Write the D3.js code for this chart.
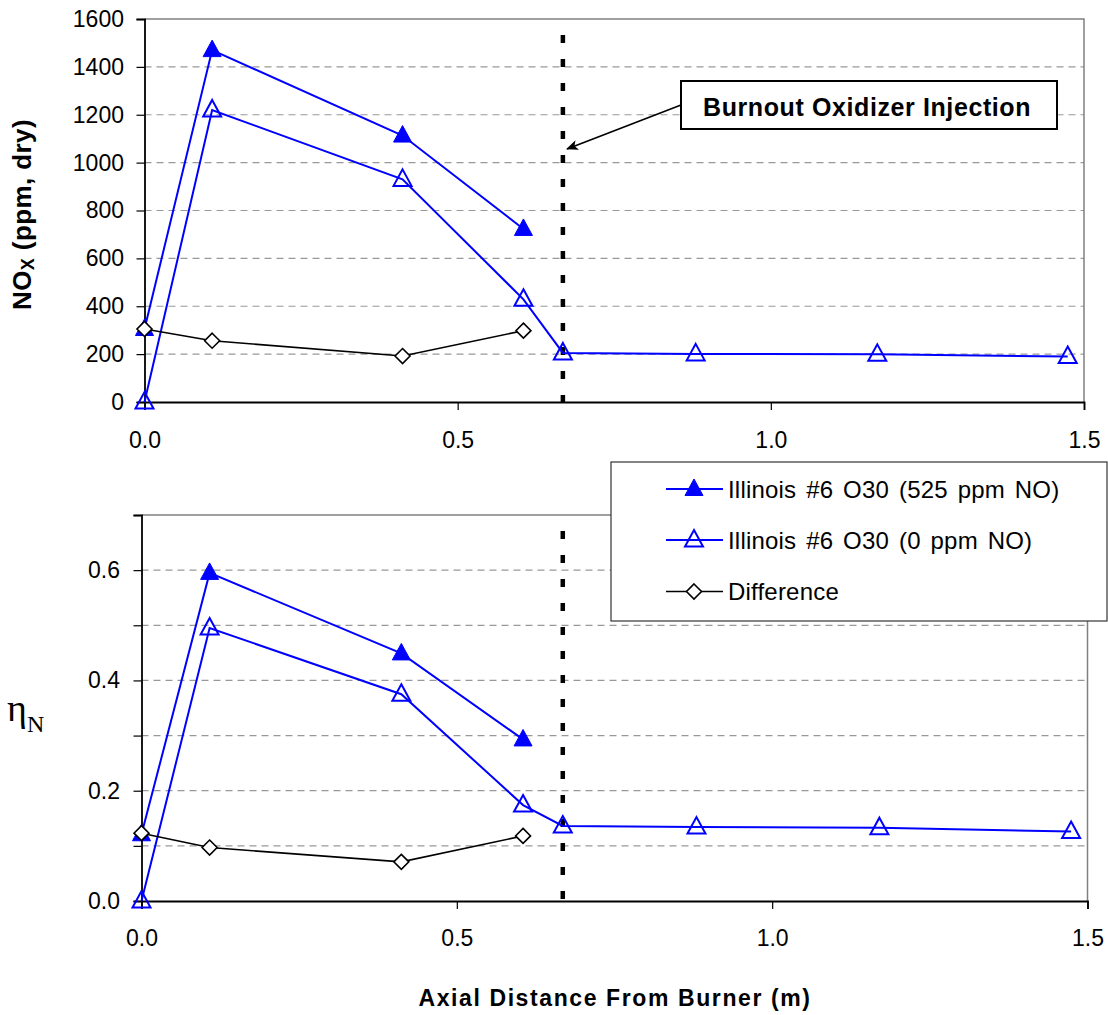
<!DOCTYPE html>
<html><head><meta charset="utf-8">
<script src="https://cdn.jsdelivr.net/npm/d3@7"></script>
<style>body{margin:0;background:#fff} svg{display:block}</style>
</head><body>
<svg id="c" width="1108" height="1015"></svg>
<script>
// ---- data ----
const xFilled = [0, 0.108, 0.412, 0.605];
const xOpen = [0, 0.108, 0.412, 0.605, 0.668, 0.880, 1.170, 1.474];
const noxFilled = [305, 1470, 1113, 723];
const noxOpen = [0, 1220, 930, 429, 205, 201, 199, 190];
const noxDiff = [305, 256, 192, 298];
const etaFilled = [0.121, 0.595, 0.449, 0.293];
const etaOpen = [0, 0.495, 0.375, 0.174, 0.136, 0.134, 0.133, 0.126];
const etaDiff = [0.123, 0.097, 0.071, 0.118];
const injectionX = 0.668;
const xTicks = [0, 0.5, 1.0, 1.5];
const noxTicks = [0, 200, 400, 600, 800, 1000, 1200, 1400, 1600];
const etaTicks = [0, 0.1, 0.2, 0.3, 0.4, 0.5, 0.6, 0.7];
const etaLabels = [0, 0.2, 0.4, 0.6];
const seriesNames = ["Illinois #6 O30 (525 ppm NO)", "Illinois #6 O30 (0 ppm NO)", "Difference"];
const annotationText = "Burnout Oxidizer Injection";

const svg = d3.select("#c");
const FONT = "'Liberation Sans', Arial, sans-serif";
const BLUE = "#0000ff";

const triPath = "M0,-10 L9,6.5 L-9,6.5 Z";
const diaPath = "M0,-7.5 L7.5,0 L0,7.5 L-7.5,0 Z";

function panel(opt) {
  const x = d3.scaleLinear().domain([0, 1.5]).range([opt.left, opt.right]);
  const y = d3.scaleLinear().domain(opt.domain).range([opt.bottom, opt.top]);
  const g = svg.append("g");

  g.selectAll("line.grid").data(opt.ticks.filter(t => t > opt.domain[0] && t < opt.domain[1]))
    .enter().append("line")
    .attr("x1", opt.left).attr("x2", opt.right)
    .attr("y1", d => y(d)).attr("y2", d => y(d))
    .attr("stroke", "#999").attr("stroke-width", 1.2).attr("stroke-dasharray", "7,5");

  g.append("path")
    .attr("d", `M${opt.left},${opt.top} H${opt.right} V${opt.bottom}`)
    .attr("fill", "none").attr("stroke", "#808080").attr("stroke-width", 1.5);

  const xAxis = d3.axisBottom(x).tickValues(xTicks).tickSize(8).tickPadding(0)
    .tickFormat(d3.format(".1f"));
  const xa = g.append("g").attr("transform", `translate(0,${opt.bottom})`).call(xAxis);
  xa.select(".domain").attr("stroke", "#000").attr("stroke-width", 1.8);
  xa.selectAll(".tick line").attr("stroke", "#000").attr("stroke-width", 1.2);
  xa.selectAll(".tick text").attr("font-family", FONT).attr("font-size", 23)
    .attr("fill", "#000").attr("dy", null).attr("y", opt.xLabelY - opt.bottom);

  const yAxis = d3.axisLeft(y).tickValues(opt.ticks).tickSize(8).tickPadding(0)
    .tickFormat(opt.fmt);
  const ya = g.append("g").attr("transform", `translate(${opt.left},0)`).call(yAxis);
  ya.select(".domain").attr("stroke", "#000").attr("stroke-width", 1.8);
  ya.selectAll(".tick line").attr("stroke", "#000").attr("stroke-width", 1.2);
  ya.selectAll(".tick text").attr("font-family", FONT).attr("font-size", 23)
    .attr("fill", "#000").attr("x", opt.yLabelX - opt.left);

  g.append("line")
    .attr("x1", x(injectionX)).attr("x2", x(injectionX))
    .attr("y1", opt.top).attr("y2", opt.bottom)
    .attr("stroke", "#000").attr("stroke-width", 4.5)
    .attr("stroke-dasharray", "8,16").attr("stroke-dashoffset", 8);

  const line = d3.line().x(d => x(d[0])).y(d => y(d[1]));
  const filled = xFilled.map((v, i) => [v, opt.filled[i]]);
  const open = xOpen.map((v, i) => [v, opt.open[i]]);
  const diff = xFilled.map((v, i) => [v, opt.diff[i]]);

  g.append("path").datum(open).attr("d", line).attr("fill", "none").attr("stroke", BLUE).attr("stroke-width", 2);
  g.append("path").datum(filled).attr("d", line).attr("fill", "none").attr("stroke", BLUE).attr("stroke-width", 2);
  g.append("path").datum(diff).attr("d", line).attr("fill", "none").attr("stroke", "#000").attr("stroke-width", 1.6);

  g.selectAll("path.of").data(open).enter().append("path")
    .attr("d", triPath).attr("transform", d => `translate(${x(d[0])},${y(d[1])})`)
    .attr("fill", "none").attr("stroke", BLUE).attr("stroke-width", 2);
  g.selectAll("path.ff").data(filled).enter().append("path")
    .attr("d", triPath).attr("transform", d => `translate(${x(d[0])},${y(d[1])})`)
    .attr("fill", BLUE).attr("stroke", BLUE).attr("stroke-width", 1);
  g.selectAll("path.df").data(diff).enter().append("path")
    .attr("d", diaPath).attr("transform", d => `translate(${x(d[0])},${y(d[1])})`)
    .attr("fill", "#fff").attr("stroke", "#000").attr("stroke-width", 1.6);
  return {x, y, g};
}

panel({left: 144.5, right: 1084, top: 19, bottom: 402, domain: [0, 1600], ticks: noxTicks,
  fmt: d3.format("d"), xLabelY: 448, yLabelX: 124,
  filled: noxFilled, open: noxOpen, diff: noxDiff});

panel({left: 141.5, right: 1087.5, top: 515, bottom: 901, domain: [0, 0.7], ticks: etaTicks,
  fmt: d => etaLabels.some(v => Math.abs(v - d) < 1e-9) ? d3.format(".1f")(d) : "",
  xLabelY: 946, yLabelX: 120,
  filled: etaFilled, open: etaOpen, diff: etaDiff});

// Y axis title (top)
const yt = svg.append("text").attr("transform", "translate(31,214.5) rotate(-90)")
  .attr("text-anchor", "middle").attr("font-family", FONT).attr("font-weight", "bold")
  .attr("font-size", 26).attr("letter-spacing", 0.4).attr("fill", "#000");
yt.append("tspan").text("NO");
yt.append("tspan").attr("font-size", 18).attr("dy", 3).text("X");
yt.append("tspan").attr("dy", -3).text(" (ppm, dry)");

// eta label (bottom)
const et = svg.append("text").attr("x", 7).attr("y", 721)
  .attr("font-family", "'Liberation Serif', 'Times New Roman', serif").attr("fill", "#000");
et.append("tspan").attr("font-size", 38).text("η");
et.append("tspan").attr("font-size", 24).attr("dy", 11).text("N");

// X axis title
svg.append("text").attr("x", 615).attr("y", 1006).attr("text-anchor", "middle")
  .attr("font-family", FONT).attr("font-weight", "bold").attr("font-size", 23)
  .attr("letter-spacing", 1.6).attr("fill", "#000").text("Axial Distance From Burner (m)");

// Annotation box + arrow
svg.append("defs").append("marker").attr("id", "ah").attr("viewBox", "0 0 12 10")
  .attr("refX", 11).attr("refY", 5).attr("markerWidth", 12).attr("markerHeight", 10)
  .attr("markerUnits", "userSpaceOnUse").attr("orient", "auto")
  .append("path").attr("d", "M0,0 L12,5 L0,10 L3,5 Z").attr("fill", "#000");
svg.append("line").attr("x1", 681).attr("y1", 105).attr("x2", 567).attr("y2", 149)
  .attr("stroke", "#000").attr("stroke-width", 1.6).attr("marker-end", "url(#ah)");
svg.append("rect").attr("x", 681).attr("y", 81).attr("width", 376).attr("height", 48)
  .attr("fill", "#fff").attr("stroke", "#000").attr("stroke-width", 2);
svg.append("text").attr("x", 703).attr("y", 116).attr("text-anchor", "start")
  .attr("font-family", FONT).attr("font-weight", "bold").attr("font-size", 25)
  .attr("letter-spacing", 0.6).attr("fill", "#000").text(annotationText);

// Legend
const lg = svg.append("g");
lg.append("rect").attr("x", 611).attr("y", 462).attr("width", 496).attr("height", 159)
  .attr("fill", "#fff").attr("stroke", "#333").attr("stroke-width", 1.2);
const rowsY = [489, 540, 591.5];
const lineCol = [BLUE, BLUE, "#000"];
seriesNames.forEach((name, i) => {
  lg.append("line").attr("x1", 666).attr("x2", 723).attr("y1", rowsY[i]).attr("y2", rowsY[i])
    .attr("stroke", lineCol[i]).attr("stroke-width", i < 2 ? 2 : 1.6);
  const m = lg.append("path").attr("transform", `translate(694,${rowsY[i]})`);
  if (i === 0) m.attr("d", triPath).attr("fill", BLUE).attr("stroke", BLUE).attr("stroke-width", 1);
  else if (i === 1) m.attr("d", triPath).attr("fill", "none").attr("stroke", BLUE).attr("stroke-width", 2);
  else m.attr("d", diaPath).attr("fill", "#fff").attr("stroke", "#000").attr("stroke-width", 1.6);
  lg.append("text").attr("x", 728).attr("y", rowsY[i] + 8.5).attr("font-family", FONT)
    .attr("font-size", 24).attr("word-spacing", 3).attr("letter-spacing", 0.2)
    .attr("fill", "#000").text(name);
});
</script>
</body></html>
